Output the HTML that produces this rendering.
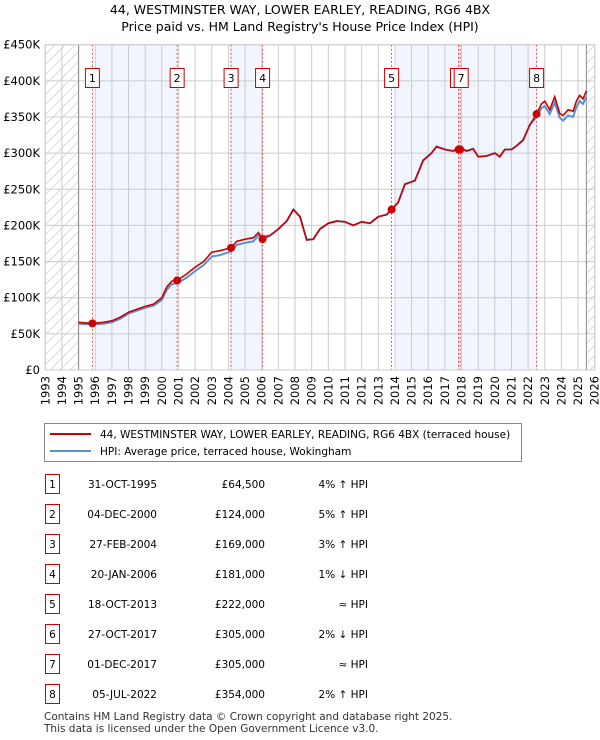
<!DOCTYPE html>
<html><head><meta charset="utf-8"><style>
body{margin:0;background:#fff;font-family:"DejaVu Sans","Liberation Sans",sans-serif;}
#wrap{position:relative;width:600px;height:740px;overflow:hidden;}
svg text{font-family:"DejaVu Sans","Liberation Sans",sans-serif;}
</style></head><body><div id="wrap">
<svg id="svg" width="600" height="740" xmlns="http://www.w3.org/2000/svg">
<defs><pattern id="hatch" patternUnits="userSpaceOnUse" width="10" height="10"><path d="M-1,11 L11,-1 M-6,6 L6,-6 M4,16 L16,4" stroke="#d4d4d4" stroke-width="0.8"/></pattern></defs>
<text x="300" y="14" text-anchor="middle" font-size="12.5">44, WESTMINSTER WAY, LOWER EARLEY, READING, RG6 4BX</text>
<text x="300" y="31" text-anchor="middle" font-size="12.5">Price paid vs. HM Land Registry's House Price Index (HPI)</text>
<g id="plot"></g>
<rect x="44.5" y="423.5" width="477" height="38" fill="#fff" stroke="#888"/>
<line x1="50" y1="434" x2="91" y2="434" stroke="#cc0000" stroke-width="2"/>
<text x="100" y="438" font-size="10.5">44, WESTMINSTER WAY, LOWER EARLEY, READING, RG6 4BX (terraced house)</text>
<line x1="50" y1="451" x2="91" y2="451" stroke="#5b8fd4" stroke-width="2"/>
<text x="100" y="455" font-size="10.5">HPI: Average price, terraced house, Wokingham</text>
<g id="table"></g>
<text x="44" y="720" font-size="10.5" fill="#333">Contains HM Land Registry data © Crown copyright and database right 2025.</text>
<text x="44" y="732" font-size="10.5" fill="#333">This data is licensed under the Open Government Licence v3.0.</text>
</svg></div>
<script>
const priceYears=[1995.0,1995.83,1996.5,1997,1997.5,1998,1998.5,1999,1999.5,2000,2000.3,2000.6,2000.92,2001.5,2002,2002.5,2003,2003.5,2004.16,2004.5,2005,2005.5,2005.8,2006.05,2006.5,2007,2007.5,2007.9,2008.3,2008.7,2009.1,2009.5,2010,2010.5,2011,2011.5,2012,2012.5,2013,2013.5,2013.8,2014.2,2014.6,2015.2,2015.7,2016.2,2016.5,2017,2017.5,2017.9,2018.3,2018.7,2019,2019.5,2020,2020.3,2020.6,2021,2021.3,2021.7,2022.1,2022.51,2022.8,2023,2023.3,2023.6,2023.9,2024.1,2024.4,2024.7,2024.9,2025.1,2025.3,2025.5];
const priceVals=[66,64.5,66,68,73,80,84,88,91,100,115,123,124,133,142,150,163,165,169,178,181,183,190,181,186,195,206,222,212,180,181,195,203,206,205,200,205,203,212,215,222,232,257,262,290,300,309,305,303,308,303,306,295,296,300,295,305,305,310,318,339,354,368,372,360,378,355,352,360,358,372,380,375,386];
const hpiVals=[64,63,64,66,71,78,82,86,89,97,111,119,120,128,137,145,157,159,164,173,176,178,186,185,186,195,206,222,212,180,181,195,203,206,205,200,205,203,212,215,222,232,257,262,290,300,309,305,303,308,303,306,295,296,300,295,305,305,310,318,339,350,362,365,354,370,349,345,352,350,364,372,368,378];
const saleLabels=["1","2","3","4","5","6","7","8"];
const saleYears=[1995.83,2000.92,2004.16,2006.05,2013.8,2017.82,2017.92,2022.51];
const salePrices=[64.5,124,169,181,222,305,305,354];
const saleDates=["31-OCT-1995","04-DEC-2000","27-FEB-2004","20-JAN-2006","18-OCT-2013","27-OCT-2017","01-DEC-2017","05-JUL-2022"];
const salePriceText=["£64,500","£124,000","£169,000","£181,000","£222,000","£305,000","£305,000","£354,000"];
const saleHpiText=["4% ↑ HPI","5% ↑ HPI","3% ↑ HPI","1% ↓ HPI","≈ HPI","2% ↓ HPI","≈ HPI","2% ↑ HPI"];
const yTicks=[0,50,100,150,200,250,300,350,400,450];
const xTicks=[];for(let y=1993;y<=2026;y++)xTicks.push(y);
const shades=[[1996.0,2000.92],[2004.1,2006.05],[2014.0,2022.51]];
const X0=45.3,X1=594.7,Y0=370,Y1=44.7;
const xs=y=>X0+(y-1993)/33*(X1-X0);
const ys=v=>Y0-v/450*(Y0-Y1);
const NS="http://www.w3.org/2000/svg";
const plot=document.getElementById('plot');
function mk(tag,attrs,parent){const e=document.createElementNS(NS,tag);for(const k in attrs)e.setAttribute(k,attrs[k]);(parent||plot).appendChild(e);return e;}
let e;
e=mk('rect',{x:X0,y:Y1,width:X1-X0,height:Y0-Y1,fill:'#fff'});


shades.forEach(s=>{e=mk('rect',{x:xs(s[0]),y:Y1,width:xs(s[1])-xs(s[0]),height:Y0-Y1,fill:'#f1f5fd'});

});
e=mk('rect',{x:X0,y:Y1,width:xs(1995)-X0,height:Y0-Y1,fill:'url(#hatch)'});


e=mk('rect',{x:xs(2025.5),y:Y1,width:X1-xs(2025.5),height:Y0-Y1,fill:'url(#hatch)'});


xTicks.forEach(t=>{e=mk('line',{x1:xs(t),x2:xs(t),y1:Y1,y2:Y0,stroke:'#ccc','stroke-width':1});


const tx=mk('text',{x:0,y:0,'font-size':11.5,'text-anchor':'end',transform:`translate(${xs(t)+4},${Y0+6}) rotate(-90)`});tx.textContent=t;

});
yTicks.forEach(t=>{e=mk('line',{x1:X0,x2:X1,y1:ys(t),y2:ys(t),stroke:'#ccc','stroke-width':1});


const tx=mk('text',{x:40,y:ys(t)+4,'font-size':11.5,'text-anchor':'end'});tx.textContent=t===0?'£0':'£'+t+'K';

});
e=mk('line',{x1:xs(1995),x2:xs(1995),y1:Y1,y2:Y0,stroke:'#888'});


e=mk('line',{x1:xs(2025.5),x2:xs(2025.5),y1:Y1,y2:Y0,stroke:'#888'});


saleYears.forEach((y,i)=>{e=mk('line',{x1:xs(y),x2:xs(y),y1:Y1,y2:Y0,stroke:'#e05050','stroke-dasharray':'2,2','stroke-width':1});

});
const pts=v=>priceYears.map((y,i)=>xs(y).toFixed(1)+','+ys(v[i]).toFixed(1)).join(' ');
e=mk('polyline',{points:pts(hpiVals),fill:'none',stroke:'#5b8fd4','stroke-width':2});


e=mk('polyline',{points:pts(priceVals),fill:'none',stroke:'#cc0000','stroke-width':1.6});


saleYears.forEach((y,i)=>{e=mk('circle',{cx:xs(y),cy:ys(salePrices[i]),r:4,fill:'#cc0000'});


const bx=xs(y)-(i===5?1:i===6?-1:0);
const g=mk('g',{});


mk('rect',{x:bx-7,y:68.5,width:14,height:19,fill:'#fff',stroke:'#cc0000'},g);
const t=mk('text',{x:bx,y:82,'font-size':11,'text-anchor':'middle'},g);t.textContent=saleLabels[i];});
e=mk('rect',{x:X0,y:Y1,width:X1-X0,height:Y0-Y1,fill:'none',stroke:'#ccc'});
const tb=document.getElementById('table');
saleLabels.forEach((l,i)=>{const cy=484+30*i;
const row=mk('g',{},tb);


mk('rect',{x:45.5,y:cy-9.5,width:14,height:19,fill:'#fff',stroke:'#cc0000'},row);
let t=mk('text',{x:52.5,y:cy+4,'font-size':10.5,'text-anchor':'middle'},row);t.textContent=l;
t=mk('text',{x:157,y:cy+4,'font-size':10.5,'text-anchor':'end'},row);t.textContent=saleDates[i];
t=mk('text',{x:265,y:cy+4,'font-size':10.5,'text-anchor':'end'},row);t.textContent=salePriceText[i];
t=mk('text',{x:368,y:cy+4,'font-size':10.5,'text-anchor':'end'},row);t.textContent=saleHpiText[i];});
</script></body></html>
